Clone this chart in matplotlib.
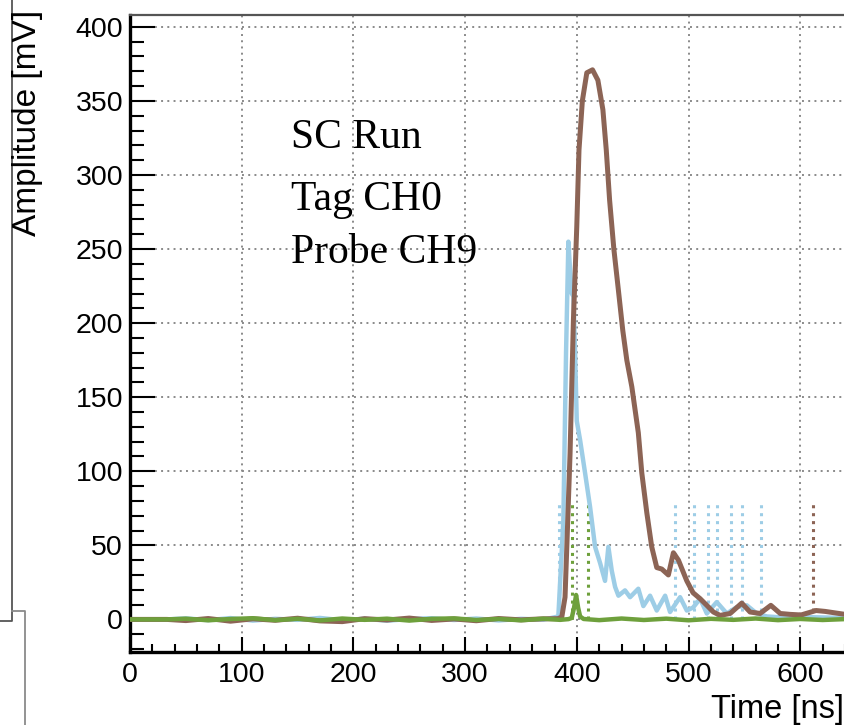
import matplotlib
matplotlib.use("Agg")
import matplotlib.pyplot as plt
from matplotlib.lines import Line2D
from matplotlib.ticker import MultipleLocator
import numpy as np

plt.rcParams["font.family"] = ["Liberation Sans", "DejaVu Sans"]

# Waveforms (time in ns, amplitude in mV)
brown_t = [0, 33, 50, 70, 90, 110, 130, 150, 170, 190, 210, 230, 250, 270,
           290, 310, 330, 350, 370, 383, 386.5, 389.4, 391.5, 393.9, 396.9,
           399.9, 401.9, 404.9, 408.9, 414.0, 418.8, 423.3, 426.3, 429.3,
           433.1, 437.2, 441.1, 444.7, 449.2, 455.0, 458.1, 462.6, 467.0,
           471.5, 476.0, 481.9, 486.4, 490.9, 498.4, 504.0, 510.3, 516.3,
           522.2, 528.2, 537.2, 547.6, 555.0, 564.0, 573.6, 582.0, 590.9,
           600.7, 614.1, 622.2, 640]
brown_v = [0, 0, -0.8, 0.6, -1.2, 0.4, -0.6, 0.8, -1.0, -1.5, 0.5, -0.4,
           0.9, -0.7, 0.3, -0.9, 0.6, -0.3, 0.4, 0.5, 1.6, 15, 60, 112, 202,
           265, 317, 350, 369, 371, 364, 344, 317, 283, 250, 222, 195, 175,
           157, 126, 99, 72, 49, 35, 34, 30, 45, 40, 26, 18, 14, 9.5, 5, 2.7,
           4, 11, 5, 4, 9.5, 4, 3.4, 3, 6, 5.4, 3.4]

blue_t = [0, 33, 50, 70, 90, 110, 130, 150, 170, 190, 210, 230, 250, 270,
          290, 310, 330, 350, 370, 383.4, 387.9, 390.3, 392.4, 393.9, 395.4,
          396.9, 398.4, 399.9, 402.9, 407.3, 411.8, 416.3, 420.8, 425.2,
          428.2, 431.2, 434.2, 437.2, 443.1, 447.6, 455.0, 459.5, 465.5,
          471.5, 479.0, 483.4, 492.4, 498.4, 504.0, 510.3, 516.3, 525.2,
          534.2, 543.1, 552.1, 561.0, 570, 590, 610, 640]
blue_v = [0, 0, 0.7, -0.5, 0.9, -0.8, 0.4, -0.3, 1.0, -0.6, 0.5, -0.9, 0.3,
          0.8, -0.4, 0.6, -0.7, 0.4, -0.2, 2, 67, 180, 255, 236, 220, 218,
          180, 134, 121, 99, 76, 49, 38, 26, 49, 33, 22, 16, 19.6, 15, 20.7,
          9, 16, 6, 16, 5, 15, 6, 8, 14, 4, 11.7, 4, 8.3, 9.5, 4, 2, 1, 1.5, 1]

green_t = [0, 33, 50, 70, 90, 110, 130, 150, 170, 190, 210, 230, 250, 270,
           290, 310, 330, 350, 370, 385, 392.5, 395.4, 397.5, 399.3, 401.1,
           402.9, 406, 420, 440, 460, 480, 500, 520, 540, 560, 580, 600, 620,
           640]
green_v = [0, 0, 0.5, -0.6, 0.3, 0.8, -0.5, 0.4, -0.7, 0.6, -0.3, 0.5, -0.8,
           0.4, 0.7, -0.4, 0.3, -0.6, 0.5, -0.3, 0.2, 1, 8, 16.5, 8, 2, 0.3,
           -0.5, 0.6, -0.4, 0.5, -0.6, 0.4, -0.3, 0.6, -0.5, 0.3, -0.4, 0.2]

# Dotted time markers (ns)
blue_marks = [384.0, 488.0, 504.9, 517.7, 525.2, 538.0, 547.6, 564.6]
green_marks = [395.3, 410.2]
brown_marks = [611.1]
mark_height = 80

info_lines = ["SC Run", "Tag CH0", "Probe CH9"]
info_y = [318, 276.5, 240.5]

c_brown = "#8c6455"
c_blue = "#9dcde6"
c_green = "#6ea03c"

W, H = 845, 725
fig = plt.figure(figsize=(W / 100, H / 100), dpi=100)
ax = fig.add_axes([130 / W, 73 / H, (W - 130) / W, (652 - 15) / H])

dot = (0, (1, 1.6))
for marks, col in [(blue_marks, c_blue), (green_marks, c_green), (brown_marks, c_brown)]:
    ax.vlines(marks, 0, mark_height, colors=col, linestyles=dot, linewidth=2.2, zorder=2)

ax.plot(blue_t, blue_v, color=c_blue, lw=3.2, zorder=3, solid_joinstyle="round")
ax.plot(brown_t, brown_v, color=c_brown, lw=3.6, zorder=4, solid_joinstyle="round")
ax.plot(green_t, green_v, color=c_green, lw=3.2, zorder=5, solid_joinstyle="round")

ax.set_xlim(0, 640)
ax.set_ylim(-22, 408)
ax.xaxis.set_major_locator(MultipleLocator(100))
ax.xaxis.set_minor_locator(MultipleLocator(20))
ax.yaxis.set_major_locator(MultipleLocator(50))
ax.yaxis.set_minor_locator(MultipleLocator(10))

ax.grid(True, which="major", color="#8a8a8a", linestyle=(0, (1, 2.2)), linewidth=1.4, zorder=1)

ax.tick_params(axis="both", which="both", direction="in", labelsize=20.5, width=1.5, color="black")
ax.tick_params(axis="y", which="major", length=18, pad=5)
ax.tick_params(axis="y", which="minor", length=10)
ax.tick_params(axis="x", which="major", length=11, pad=7)
ax.tick_params(axis="x", which="minor", length=6)

ax.spines["right"].set_visible(False)
ax.spines["left"].set_linewidth(2.4)
ax.spines["bottom"].set_linewidth(2.4)
ax.spines["top"].set_linewidth(1.6)
ax.spines["top"].set_color("#555555")

for txt, yv in zip(info_lines, info_y):
    ax.text(144, yv, txt, family="Liberation Serif", fontsize=30, va="baseline", ha="left", zorder=6)

fig.text(27.5 / W, 1 - 10 / H, "Amplitude [mV]", rotation=90, ha="center", va="top", fontsize=24)
fig.text(844 / W, 1 - 718 / H, "Time [ns]", ha="right", va="baseline", fontsize=23.5)

# window edges seen at the left of the screenshot
fig.add_artist(Line2D([12.5 / W, 12.5 / W, 0], [1, 1 - 621 / H, 1 - 621 / H],
                      transform=fig.transFigure, color="#555555", lw=1.3))
fig.add_artist(Line2D([12.5 / W, 25 / W, 25 / W], [1 - 611 / H, 1 - 611 / H, 0],
                      transform=fig.transFigure, color="#8a8a8a", lw=1.3))

fig.savefig("out.png", dpi=100)
